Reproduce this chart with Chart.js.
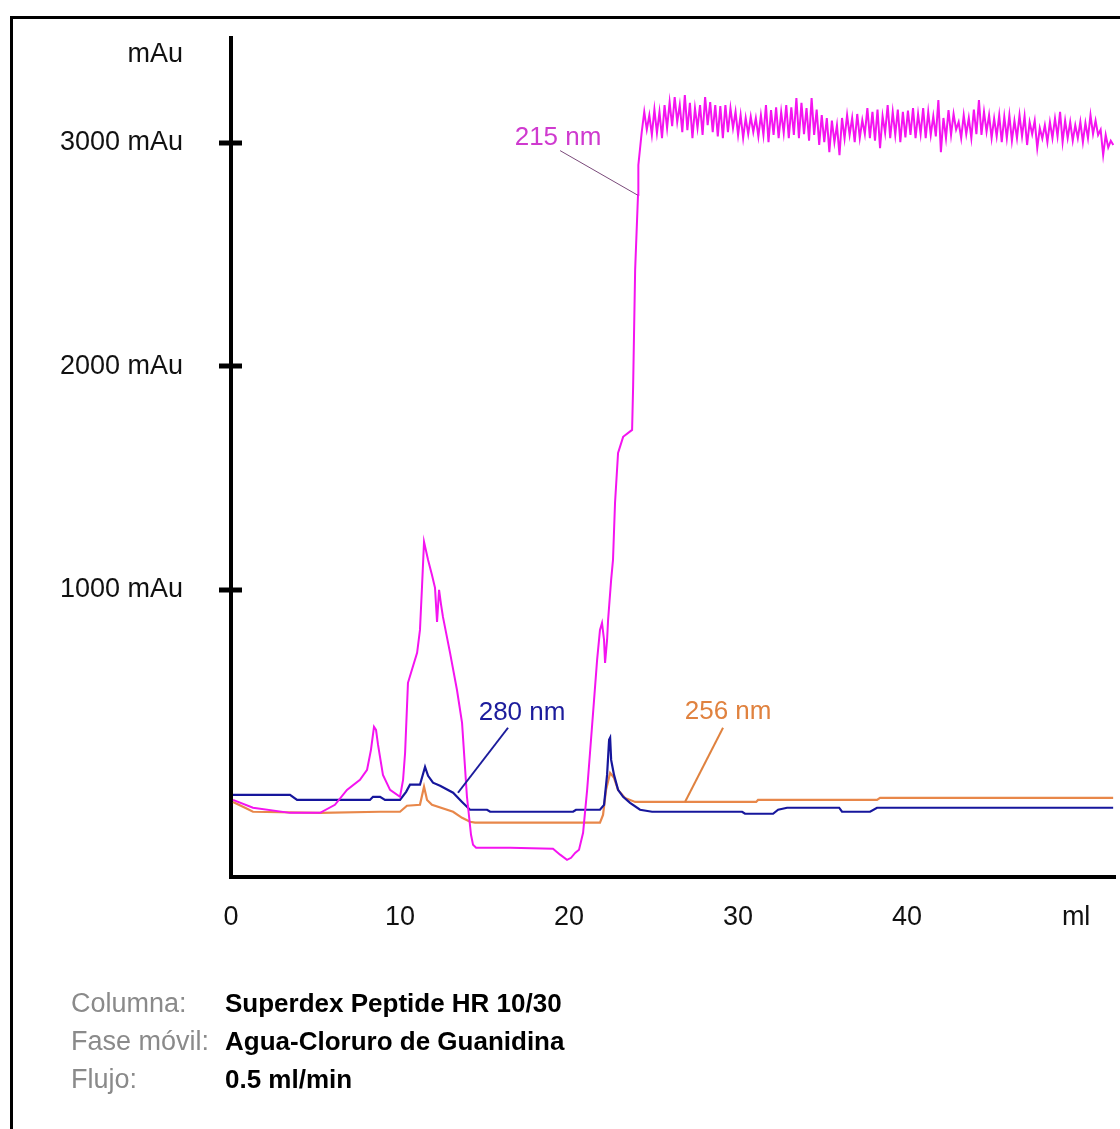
<!DOCTYPE html>
<html>
<head>
<meta charset="utf-8">
<title>Cromatograma Superdex Peptide</title>
<script src="https://cdn.jsdelivr.net/npm/chart.js@4.4.1/dist/chart.umd.min.js"></script>
<style>
	html, body { margin: 0; padding: 0; background: #fff; }
	#wrap { position: relative; width: 1120px; height: 1129px; overflow: hidden; }
	#chrom { position: absolute; left: 0; top: 0; }
	#info {
		position: absolute; left: 71px; top: 984px;
		font-family: "Liberation Sans", Arial, sans-serif;
		font-size: 27px; line-height: 38px;
	}
	#info .row { display: flex; white-space: nowrap; }
	#info .lbl { width: 154px; color: #8a8a8a; }
	#info .val { color: #000; font-weight: bold; font-size: 26px; }
</style>
</head>
<body>
<div id="wrap">
	<canvas id="chrom" width="1120" height="1129"></canvas>
	<div id="info">
		<div class="row"><span class="lbl">Columna:</span><span class="val">Superdex Peptide HR 10/30</span></div>
		<div class="row"><span class="lbl">Fase móvil:</span><span class="val">Agua-Cloruro de Guanidina</span></div>
		<div class="row"><span class="lbl">Flujo:</span><span class="val">0.5 ml/min</span></div>
	</div>
</div>
<script>
// ===== DATA (volumen en ml, absorbancia en mAu) =====
// 215 nm: zona de picos y subida
const vol215 = [
	0.12, 1.30, 3.49, 5.27, 6.15, 6.86, 7.63, 8.05, 8.28, 8.46,
	8.58, 8.70, 8.99, 9.41, 10.00, 10.18, 10.30, 10.47, 10.65, 11.01,
	11.18, 11.30, 11.42, 11.66, 11.89, 12.07, 12.19, 12.31, 12.43, 12.54,
	12.96, 13.37, 13.67, 13.96, 14.20, 14.32, 14.50, 16.51, 19.05, 19.47,
	19.88, 20.12, 20.36, 20.59, 20.83, 21.07, 21.24, 21.48, 21.66, 21.83,
	21.95, 22.07, 22.13, 22.25, 22.31, 22.49, 22.60, 22.72, 22.90, 23.20,
	23.73, 23.79, 23.91, 24.08, 24.10
];
const abs215 = [
	60, 25, 2, 2, 38, 105, 150, 195, 284, 387,
	373, 306, 172, 105, 74, 150, 271, 584, 629, 718,
	821, 1013, 1215, 1134, 1067, 1009, 857, 1000, 933, 879,
	718, 552, 405, 74, -96, -141, -154, -154, -159, -185,
	-208, -199, -177, -163, -87, 105, 271, 508, 687, 821,
	852, 776, 673, 776, 866, 1045, 1134, 1389, 1613, 1685,
	1716, 1908, 2432, 2767, 2901
];

// 215 nm: meseta saturada con ruido
const vol215Plateau = [
	24.30, 24.45, 24.60, 24.75, 24.90, 25.05, 25.20, 25.35, 25.50, 25.65,
	25.80, 25.95, 26.10, 26.25, 26.40, 26.55, 26.70, 26.85, 27.00, 27.15,
	27.30, 27.45, 27.60, 27.75, 27.90, 28.05, 28.20, 28.35, 28.50, 28.65,
	28.80, 28.95, 29.10, 29.25, 29.40, 29.55, 29.70, 29.85, 30.00, 30.15,
	30.30, 30.45, 30.60, 30.75, 30.90, 31.05, 31.20, 31.35, 31.50, 31.65,
	31.80, 31.95, 32.10, 32.25, 32.40, 32.55, 32.70, 32.85, 33.00, 33.15,
	33.30, 33.45, 33.60, 33.75, 33.90, 34.05, 34.20, 34.35, 34.50, 34.65,
	34.80, 34.95, 35.10, 35.25, 35.40, 35.55, 35.70, 35.85, 36.00, 36.15,
	36.30, 36.45, 36.60, 36.75, 36.90, 37.05, 37.20, 37.35, 37.50, 37.65,
	37.80, 37.95, 38.10, 38.25, 38.40, 38.55, 38.70, 38.85, 39.00, 39.15,
	39.30, 39.45, 39.60, 39.75, 39.90, 40.05, 40.20, 40.35, 40.50, 40.65,
	40.80, 40.95, 41.10, 41.25, 41.40, 41.55, 41.70, 41.85, 42.00, 42.15,
	42.30, 42.45, 42.60, 42.75, 42.90, 43.05, 43.20, 43.35, 43.50, 43.65,
	43.80, 43.95, 44.10, 44.25, 44.40, 44.55, 44.70, 44.85, 45.00, 45.15,
	45.30, 45.45, 45.60, 45.75, 45.90, 46.05, 46.20, 46.35, 46.50, 46.65,
	46.80, 46.95, 47.10, 47.25, 47.40, 47.55, 47.70, 47.85, 48.00, 48.15,
	48.30, 48.45, 48.60, 48.75, 48.90, 49.05, 49.20, 49.35, 49.50, 49.65,
	49.80, 49.95, 50.10, 50.25, 50.40, 50.55, 50.70, 50.85, 51.00, 51.15,
	51.30, 51.45, 51.60, 51.75, 51.90, 52.05, 52.20
];
const abs215Plateau = [
	3049, 3140, 3060, 3125, 3036, 3150, 3045, 3139, 3022, 3170,
	3067, 3183, 3075, 3206, 3094, 3170, 3049, 3215, 3058, 3180,
	3022, 3156, 3067, 3170, 3036, 3206, 3080, 3183, 3049, 3170,
	3030, 3165, 3022, 3170, 3049, 3156, 3067, 3140, 3036, 3125,
	3022, 3112, 3040, 3118, 3049, 3112, 3030, 3125, 3036, 3170,
	3004, 3147, 3036, 3160, 3022, 3139, 3045, 3170, 3022, 3160,
	3036, 3201, 3022, 3180, 3040, 3156, 3010, 3201, 3036, 3150,
	2991, 3125, 3004, 3112, 2959, 3100, 3004, 3080, 2946, 3112,
	3020, 3125, 3036, 3112, 3004, 3130, 3022, 3103, 3040, 3156,
	3022, 3139, 3010, 3150, 2977, 3120, 3045, 3170, 3022, 3139,
	3036, 3150, 3004, 3139, 3025, 3145, 3036, 3156, 3022, 3130,
	3040, 3156, 3022, 3139, 3036, 3120, 3030, 3192, 2959, 3112,
	3022, 3147, 3036, 3130, 3060, 3094, 3022, 3125, 3040, 3112,
	3022, 3150, 3040, 3192, 3036, 3140, 3050, 3125, 3022, 3110,
	3030, 3125, 3004, 3118, 3022, 3125, 3010, 3100, 3022, 3125,
	3030, 3120, 2991, 3094, 3040, 3100, 2977, 3067, 3020, 3080,
	3004, 3094, 3022, 3110, 3030, 3139, 3004, 3100, 3022, 3094,
	3010, 3080, 3022, 3095, 3004, 3090, 3022, 3125, 3040, 3100,
	3036, 3060, 2946, 3036, 2980, 3010, 2991
];

const vol280 = [
	0.12, 3.49, 3.91, 8.22, 8.40, 8.82, 9.11, 10.00, 10.36, 10.59,
	11.18, 11.48, 11.66, 11.95, 12.37, 13.14, 13.67, 14.14, 15.15, 15.33,
	20.24, 20.41, 21.83, 22.07, 22.25, 22.37, 22.43, 22.49, 22.66, 22.90,
	23.20, 23.61, 24.20, 24.91, 30.24, 30.41, 32.07, 32.37, 32.90, 35.98,
	36.15, 37.81, 38.22, 52.19
];
const abs280 = [
	83, 83, 60, 60, 74, 74, 60, 60, 96, 128,
	128, 208, 168, 137, 123, 92, 51, 16, 16, 7,
	7, 16, 16, 38, 172, 329, 338, 239, 172, 105,
	74, 47, 16, 7, 7, -2, -2, 16, 25, 25,
	7, 7, 25, 25
];

const vol256 = [
	0.12, 0.83, 1.30, 5.27, 8.82, 10.00, 10.41, 11.18, 11.42, 11.60,
	11.89, 13.14, 13.67, 14.14, 14.44, 21.83, 22.01, 22.19, 22.43, 22.66,
	22.90, 23.31, 23.91, 31.07, 31.18, 38.22, 38.40, 52.19
];
const abs256 = [
	51, 25, 7, 2, 7, 7, 34, 38, 119, 60,
	38, 7, -20, -38, -42, -42, -7, 105, 181, 159,
	105, 69, 51, 51, 60, 60, 69, 69
];

// ejes
const volTicks = [0, 10, 20, 30, 40, 50];
const volLabels = ['0', '10', '20', '30', '40', 'ml'];
const absTicks = [1000, 2000, 3000];

// ===== ESTILOS =====
const FONT = '"Liberation Sans", Arial, sans-serif';
const C215 = '#f414f0';
const C280 = '#16169c';
const C256 = '#e8874a';

// rótulos de cada traza con su línea guía (en unidades de los ejes)
const traceLabels = [
	{ text: '215 nm', color: '#cf3acf', at: [19.35, 3022], from: [19.47, 2966], to: [24.05, 2767], line: '#7a4a7a', lw: 1 },
	{ text: '280 nm', color: '#1c1c9c', at: [17.22, 452], from: [16.39, 383], to: [13.43, 92], line: '#1c1c9c', lw: 2 },
	{ text: '256 nm', color: '#e0823f', at: [29.41, 456], from: [29.11, 383], to: [26.86, 51], line: '#e0823f', lw: 2 }
];

const toPoints = (xs, ys) => xs.map((x, i) => ({ x: x, y: ys[i] }));

// ===== PLUGIN: marco, marcas del eje Y y rótulos =====
const chromDecor = {
	id: 'chromDecor',
	beforeDraw(chart) {
		const ctx = chart.ctx;
		ctx.save();
		ctx.fillStyle = '#fff';
		ctx.fillRect(0, 0, chart.width, chart.height);
		ctx.strokeStyle = '#000';
		ctx.lineWidth = 3;
		ctx.beginPath();
		ctx.moveTo(11.5, chart.height);
		ctx.lineTo(11.5, 17.5);
		ctx.lineTo(chart.width, 17.5);
		ctx.stroke();
		ctx.restore();
	},
	afterDraw(chart) {
		const ctx = chart.ctx;
		const xs = chart.scales.x;
		const ys = chart.scales.y;
		const axisX = ys.right;

		ctx.save();
		// marcas cruzadas en el eje Y
		ctx.strokeStyle = '#000';
		ctx.lineWidth = 5;
		ys.ticks.forEach(t => {
			const py = Math.round(ys.getPixelForValue(t.value));
			ctx.beginPath();
			ctx.moveTo(axisX - 12, py);
			ctx.lineTo(axisX + 11, py);
			ctx.stroke();
		});

		// unidad del eje Y
		ctx.fillStyle = '#111';
		ctx.font = '27px ' + FONT;
		ctx.textAlign = 'right';
		ctx.textBaseline = 'middle';
		ctx.fillText('mAu', axisX - 48, ys.getPixelForValue(3395));

		// rótulos de longitud de onda
		traceLabels.forEach(l => {
			ctx.strokeStyle = l.line;
			ctx.lineWidth = l.lw;
			ctx.beginPath();
			ctx.moveTo(xs.getPixelForValue(l.from[0]), ys.getPixelForValue(l.from[1]));
			ctx.lineTo(xs.getPixelForValue(l.to[0]), ys.getPixelForValue(l.to[1]));
			ctx.stroke();

			ctx.fillStyle = l.color;
			ctx.font = '26px ' + FONT;
			ctx.textAlign = 'center';
			ctx.fillText(l.text, xs.getPixelForValue(l.at[0]), ys.getPixelForValue(l.at[1]));
		});
		ctx.restore();
	}
};

// ===== CHART =====
const ctx = document.getElementById('chrom').getContext('2d');

new Chart(ctx, {
	type: 'line',
	data: {
		datasets: [
			{
				label: '215 nm',
				data: toPoints(vol215, abs215).concat(toPoints(vol215Plateau, abs215Plateau)),
				borderColor: C215,
				borderWidth: 2,
				pointRadius: 0,
				tension: 0
			},
			{
				label: '280 nm',
				data: toPoints(vol280, abs280),
				borderColor: C280,
				borderWidth: 2.2,
				pointRadius: 0,
				tension: 0
			},
			{
				label: '256 nm',
				data: toPoints(vol256, abs256),
				borderColor: C256,
				borderWidth: 2.2,
				pointRadius: 0,
				tension: 0
			}
		]
	},
	options: {
		responsive: false,
		animation: false,
		devicePixelRatio: 1,
		layout: {
			padding: { top: 38, right: 5, left: 0, bottom: 0 }
		},
		plugins: {
			legend: { display: false },
			tooltip: { enabled: false }
		},
		scales: {
			x: {
				type: 'linear',
				min: 0,
				max: 52.3,
				afterBuildTicks: scale => {
					scale.ticks = volTicks.map(v => ({ value: v }));
				},
				afterFit: scale => {
					scale.height = 252;
					scale.paddingLeft = 0;
					scale.paddingRight = 0;
				},
				ticks: {
					autoSkip: false,
					maxRotation: 0,
					padding: 24,
					color: '#111',
					font: { family: FONT, size: 27 },
					callback: (value, i) => volLabels[i]
				},
				grid: { display: false, drawTicks: false },
				border: { display: true, color: '#000', width: 4 }
			},
			y: {
				type: 'linear',
				min: -285,
				max: 3470,
				afterBuildTicks: scale => {
					scale.ticks = absTicks.map(v => ({ value: v }));
				},
				afterFit: scale => {
					scale.width = 231;
					// sin reserva extra arriba/abajo: el área del gráfico la fija layout.padding
					scale.paddingTop = 0;
					scale.paddingBottom = 0;
				},
				ticks: {
					padding: 48,
					color: '#111',
					font: { family: FONT, size: 27 },
					callback: value => value + ' mAu'
				},
				grid: { display: false, drawTicks: false },
				border: { display: true, color: '#000', width: 4 }
			}
		}
	},
	plugins: [chromDecor]
});
</script>
</body>
</html>
